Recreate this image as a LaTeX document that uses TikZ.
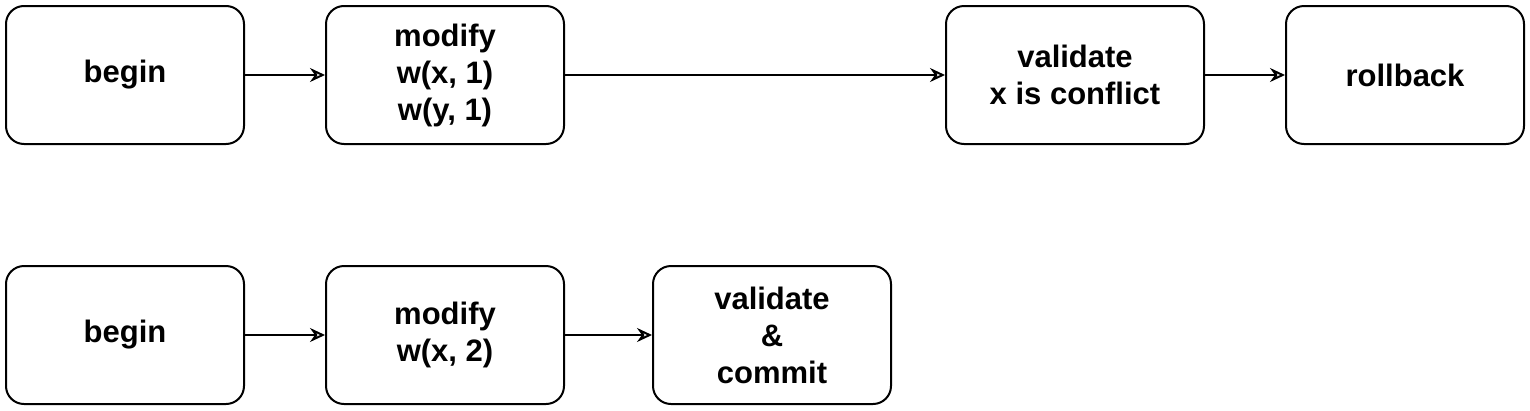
\documentclass[tikz,border=0pt]{standalone}
\usepackage{fontspec}
\setmainfont{Liberation Sans}
\usetikzlibrary{arrows.meta}
\begin{document}
\begin{tikzpicture}[x=1pt,y=-1pt,
  box/.style={draw, line width=2pt, rounded corners=18pt, minimum width=238pt, minimum height=138pt,
    inner sep=0pt, align=center, font=\fontsize{31}{37}\selectfont\bfseries},
  conn/.style={draw, line width=2pt, -{Stealth[open, length=15pt, width=14pt, inset=5pt]}}]
\useasboundingbox (0,0) rectangle (1530,410);
\node[box] (b1) at (125,75) {\raisebox{-3pt}{begin}};
\node[box] (m1) at (445,75) {modify\\w(x, 1)\\w(y, 1)};
\node[box, minimum width=258pt] (v1) at (1075,75) {validate\\x is conflict};
\node[box] (r1) at (1405,75) {\raisebox{-3pt}{rollback}};
\node[box] (b2) at (125,335) {\raisebox{-3pt}{begin}};
\node[box] (m2) at (445,335) {modify\\w(x, 2)};
\node[box] (v2) at (772,335) {validate\\\&\\commit};
\draw[conn] (b1) -- (m1);
\draw[conn] (m1) -- (v1);
\draw[conn] (v1) -- (r1);
\draw[conn] (b2) -- (m2);
\draw[conn] (m2) -- (v2);
\end{tikzpicture}
\end{document}
